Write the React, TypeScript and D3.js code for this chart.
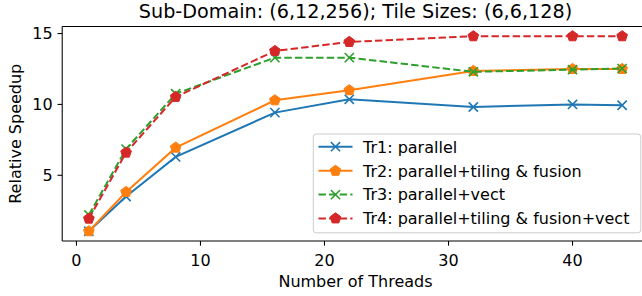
import React from "react";
import * as d3 from "d3";

const threads = [1, 4, 8, 16, 22, 32, 40, 44];
const tr1 = [1.05, 3.5, 6.3, 9.42, 10.36, 9.82, 10.0, 9.94];
const tr2 = [1.05, 3.82, 6.95, 10.29, 11.0, 12.36, 12.5, 12.5];
const tr3 = [2.2, 6.85, 10.75, 13.3, 13.3, 12.3, 12.45, 12.53];
const tr4 = [1.94, 6.6, 10.53, 13.77, 14.41, 14.81, 14.81, 14.81];
const seriesNames = [
  "Tr1: parallel",
  "Tr2: parallel+tiling & fusion",
  "Tr3: parallel+vect",
  "Tr4: parallel+tiling & fusion+vect",
];
const seriesColors = ["#1f77b4", "#ff7f0e", "#2ca02c", "#d62728"];
const seriesMarkers = ["x", "p", "x", "p"];
const seriesDashed = [false, false, true, true];
const xTicks = [0, 10, 20, 30, 40];
const yTicks = [5, 10, 15];
const title = "Sub-Domain: (6,12,256); Tile Sizes: (6,6,128)";
const xLabel = "Number of Threads";
const yLabel = "Relative Speedup";

const W = 642;
const H = 296;
const L = 62.2;
const R = 648.8;
const T = 26.5;
const B = 241;
const FONT = "DejaVu Sans, sans-serif";

function Marker({ kind, x, y, color }: { kind: string; x: number; y: number; color: string }) {
  if (kind === "x") {
    const s = 4.6;
    return (
      <path
        d={`M${x - s},${y - s}L${x + s},${y + s}M${x - s},${y + s}L${x + s},${y - s}`}
        stroke={color}
        strokeWidth={1.6}
        fill="none"
      />
    );
  }
  const r = 5.6;
  const pts = d3.range(5).map((k) => {
    const a = (-90 + k * 72) * (Math.PI / 180);
    return [x + r * Math.cos(a), y + r * Math.sin(a)];
  });
  return <polygon points={pts.map((p) => p.join(",")).join(" ")} fill={color} stroke={color} strokeWidth={1} />;
}

export default function App() {
  const all = [...tr1, ...tr2, ...tr3, ...tr4];
  const ymin = d3.min(all)!;
  const ymax = d3.max(all)!;
  const xmin = d3.min(threads)!;
  const xmax = d3.max(threads)!;
  const xs = d3
    .scaleLinear()
    .domain([xmin - 0.05 * (xmax - xmin), xmax + 0.05 * (xmax - xmin)])
    .range([L, R]);
  const ys = d3
    .scaleLinear()
    .domain([ymin - 0.05 * (ymax - ymin), ymax + 0.05 * (ymax - ymin)])
    .range([B, T]);
  const data = [tr1, tr2, tr3, tr4];
  const line = d3
    .line<number>()
    .x((_, i) => xs(threads[i]))
    .y((d) => ys(d));

  const legX = 313.3;
  const legY = 134;
  const legW = 640.8 - legX;
  const legH = 232.8 - legY;
  const rowY = [146.7, 170.8, 194.6, 218.4];

  return (
    <svg
      width={W}
      height={H}
      style={{ position: "fixed", left: 0, top: 0, background: "#fff" }}
      fontFamily={FONT}
    >
      <rect x={0} y={0} width={W} height={H} fill="#fff" />
      {data.map((vals, si) => (
        <g key={si}>
          <path
            d={line(vals)!}
            fill="none"
            stroke={seriesColors[si]}
            strokeWidth={2}
            strokeDasharray={seriesDashed[si] ? "7.4,3.2" : undefined}
          />
          {vals.map((v, i) => (
            <Marker key={i} kind={seriesMarkers[si]} x={xs(threads[i])} y={ys(v)} color={seriesColors[si]} />
          ))}
        </g>
      ))}
      {/* spines */}
      <line x1={L} x2={L} y1={T} y2={B} stroke="#000" strokeWidth={1.07} />
      <line x1={L} x2={R} y1={B} y2={B} stroke="#000" strokeWidth={1.07} />
      <line x1={L} x2={R} y1={T} y2={T} stroke="#000" strokeWidth={1.07} />
      {/* x ticks */}
      {xTicks.map((t) => (
        <g key={t}>
          <line x1={xs(t)} x2={xs(t)} y1={B} y2={B + 4.7} stroke="#000" strokeWidth={1.07} />
          <text x={xs(t)} y={265.5} fontSize={16} textAnchor="middle" fill="#000">
            {t}
          </text>
        </g>
      ))}
      {yTicks.map((t) => (
        <g key={t}>
          <line x1={L - 4.7} x2={L} y1={ys(t)} y2={ys(t)} stroke="#000" strokeWidth={1.07} />
          <text x={L - 9.6} y={ys(t) + 5.8} fontSize={16} textAnchor="end" fill="#000">
            {t}
          </text>
        </g>
      ))}
      <text x={(L + R) / 2} y={286.5} fontSize={16} textAnchor="middle" fill="#000">
        {xLabel}
      </text>
      <text
        transform={`translate(20.5,${(T + B) / 2}) rotate(-90)`}
        fontSize={16}
        textAnchor="middle"
        fill="#000"
      >
        {yLabel}
      </text>
      <text x={(L + R) / 2} y={18.3} fontSize={19.2} textAnchor="middle" fill="#000">
        {title}
      </text>
      {/* legend */}
      <rect
        x={legX}
        y={legY}
        width={legW}
        height={legH}
        rx={3}
        fill="#fff"
        fillOpacity={0.8}
        stroke="#ccc"
        strokeWidth={1}
      />
      {seriesNames.map((name, si) => (
        <g key={name}>
          <line
            x1={318.5}
            x2={352.5}
            y1={rowY[si]}
            y2={rowY[si]}
            stroke={seriesColors[si]}
            strokeWidth={2}
            strokeDasharray={seriesDashed[si] ? "7.4,3.2" : undefined}
          />
          <Marker kind={seriesMarkers[si]} x={335.5} y={rowY[si]} color={seriesColors[si]} />
          <text x={363} y={rowY[si] + 5.8} fontSize={16} fill="#000">
            {name}
          </text>
        </g>
      ))}
    </svg>
  );
}
